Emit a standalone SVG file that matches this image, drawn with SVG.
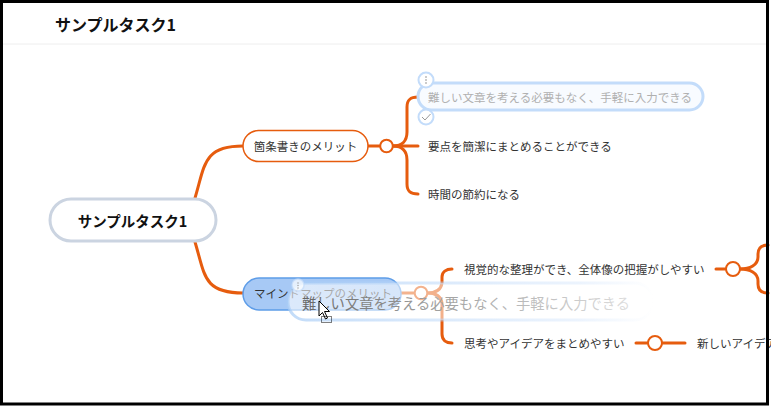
<svg xmlns="http://www.w3.org/2000/svg" width="771" height="406" viewBox="0 0 771 406">
<style>
text{font-family:"Noto Sans CJK JP","Noto Sans",sans-serif;}
.t{font-size:11.5px;fill:#333;dominant-baseline:central;}
.c{fill:none;stroke:#e65c0e;stroke-width:3;stroke-linecap:round;}
.tog{fill:#fff;stroke:#e65c0e;stroke-width:2;}
</style>
<defs>
<linearGradient id="gfill" x1="0" x2="1" y1="0" y2="0">
<stop offset="0" stop-color="#fff" stop-opacity="0.6"/>
<stop offset="0.75" stop-color="#fff" stop-opacity="0.45"/>
<stop offset="1" stop-color="#fff" stop-opacity="0"/>
</linearGradient>
<linearGradient id="gstroke" x1="0" x2="1" y1="0" y2="0">
<stop offset="0" stop-color="#a9cdf6" stop-opacity="0.7"/>
<stop offset="0.8" stop-color="#c8defa" stop-opacity="0.35"/>
<stop offset="1" stop-color="#c8defa" stop-opacity="0"/>
</linearGradient>
<linearGradient id="gtext" x1="0" x2="1" y1="0" y2="0">
<stop offset="0" stop-color="#666"/>
<stop offset="0.35" stop-color="#999"/>
<stop offset="1" stop-color="#ddd"/>
</linearGradient>
</defs>
<rect width="771" height="406" fill="#fff"/>
<text x="55" y="31" font-size="16" font-weight="bold" fill="#111">サンプルタスク1</text>
<line x1="3" y1="44" x2="768" y2="44" stroke="#eee" stroke-width="1"/>

<g id="connectors">
<path class="c" d="M195,198 C205,165 203,146 243,146"/>
<path class="c" d="M195,242 C205,275 203,293 243,293"/>
<path class="c" d="M368,146 L380,146"/>
<path class="c" d="M393,146 L418,146"/>
<path class="c" d="M393,146 C402,146 407,141 407,132 L407,107 C407,100 410,97 418,97"/>
<path class="c" d="M393,146 C402,146 407,151 407,160 L407,184 C407,191 410,194 418,194"/>
<circle class="tog" cx="386.5" cy="146" r="6.3"/>
<path class="c" d="M401,293 L414,293"/>
<path class="c" d="M427,293 C436,293 441,290 442,283 L442,277 C442,272 446,269 452,269"/>
<path class="c" d="M427,293 C436,293 441,296 442,303 L442,334 C442,340 446,343 452,343"/>
<circle class="tog" cx="421" cy="293" r="6.3"/>
<path class="c" d="M716,269 L726,269"/>
<path class="c" d="M740,269 C750,269 758,265 758,257 L758,254 C758,248 761,245 768,245"/>
<path class="c" d="M740,269 C750,269 758,273 758,281 L758,284 C758,290 761,293 768,293"/>
<circle class="tog" cx="733" cy="269" r="7"/>
<path class="c" d="M636,343 L648,343"/>
<path class="c" d="M662,343 L685,343"/>
<circle class="tog" cx="655" cy="343" r="7"/>
</g>

<g id="root">
<rect x="50" y="199" width="166" height="42" rx="21" fill="#fff" stroke="#cbd4e1" stroke-width="3"/>
<text x="132.5" y="220" font-size="14.5" font-weight="bold" fill="#111" text-anchor="middle" dominant-baseline="central">サンプルタスク1</text>
</g>

<g id="node-bullet">
<rect x="243" y="130.5" width="125" height="31" rx="15.5" fill="#fff" stroke="#e65c0e" stroke-width="1.5"/>
<text class="t" x="305.5" y="146" text-anchor="middle">箇条書きのメリット</text>
</g>

<g id="node-bullet-1">
<rect x="418" y="83" width="285" height="27" rx="13.5" fill="#f8fbff" stroke="#c3dcfa" stroke-width="3"/>
<text class="t" x="428" y="97" fill="#b0b0b0" style="fill:#b0b0b0">難しい文章を考える必要もなく、手軽に入力できる</text>
<circle cx="426" cy="80" r="7.5" fill="#fff" stroke="#c3dcfa" stroke-width="2"/>
<circle cx="426" cy="77" r="0.8" fill="#888"/>
<circle cx="426" cy="80" r="0.8" fill="#888"/>
<circle cx="426" cy="83" r="0.8" fill="#888"/>
<circle cx="426" cy="117" r="7.5" fill="#fff" stroke="#c3dcfa" stroke-width="2"/>
<path d="M422,117 L425,120 L430.5,114" fill="none" stroke="#999" stroke-width="1"/>
</g>

<g id="node-bullet-2">
<text class="t" x="428" y="146">要点を簡潔にまとめることができる</text>
</g>

<g id="node-bullet-3">
<text class="t" x="428" y="194">時間の節約になる</text>
</g>

<g id="node-mindmap">
<rect x="243" y="278" width="158" height="32" rx="16" fill="#a7c9f5" stroke="#5e9de8" stroke-width="1.5"/>
<text class="t" x="254" y="293">マインドマップのメリット</text>
</g>

<g id="node-mindmap-1">
<text class="t" x="464" y="269">視覚的な整理ができ、全体像の把握がしやすい</text>
</g>

<g id="node-mindmap-2">
<text class="t" x="464" y="343">思考やアイデアをまとめやすい</text>
</g>

<g id="node-mindmap-2-1">
<text class="t" x="697" y="343">新しいアイデア</text>
</g>

<g id="drag-ghost">
<rect x="288" y="283" width="365" height="37" rx="18" fill="url(#gfill)" stroke="url(#gstroke)" stroke-width="3"/>
<text x="302" y="302" font-size="14.3" fill="url(#gtext)" dominant-baseline="central">難しい文章を考える必要もなく、手軽に入力できる</text>
<circle cx="298" cy="285" r="6" fill="#fff" fill-opacity="0.7" stroke="#c3dcfa" stroke-opacity="0.7" stroke-width="1.5"/>
<circle cx="298" cy="283" r="0.7" fill="#999"/>
<circle cx="298" cy="285.5" r="0.7" fill="#999"/>
<circle cx="298" cy="288" r="0.7" fill="#999"/>
</g>

<g id="cursor">
<path d="M319,301 L319,316 L322.5,312.5 L325.5,319 L327.5,318 L324.5,311.5 L329.5,311.5 Z" fill="#fff" stroke="#000" stroke-width="1" stroke-linejoin="round"/>
<rect x="321.5" y="316.5" width="10" height="6" fill="none" stroke="#000" stroke-width="1" stroke-dasharray="1,1"/>
</g>

<rect x="1.5" y="1.5" width="766" height="402.5" fill="none" stroke="#000" stroke-width="3"/>
</svg>
